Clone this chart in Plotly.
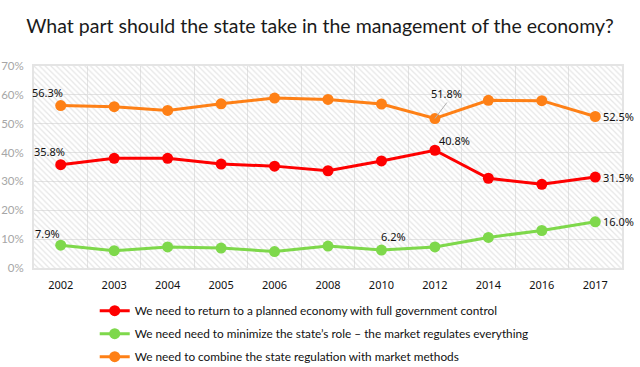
import plotly.graph_objects as go

years = ["2002", "2003", "2004", "2005", "2006", "2008", "2010", "2012", "2014", "2016", "2017"]
planned = [35.8, 38.0, 38.0, 36.0, 35.3, 33.7, 37.1, 40.8, 31.1, 29.0, 31.5]
minimize = [7.9, 6.0, 7.3, 6.9, 5.7, 7.6, 6.2, 7.3, 10.6, 13.0, 16.0]
combine = [56.3, 55.9, 54.6, 56.9, 58.9, 58.4, 56.8, 51.8, 58.1, 58.0, 52.5]

names = [
    "We need to return to a planned economy with full government control",
    "We need need to minimize the state\u2019s role \u2013 the market regulates everything",
    "We need to combine the state regulation with market methods",
]
colors = ["#fe0000", "#7ed84b", "#fe8016"]
Y_MAX = 70
tick_vals = [0, 10, 20, 30, 40, 50, 60, 70]

fig = go.Figure()

# hatched plot background
fig.add_trace(go.Bar(
    x=years, y=[Y_MAX] * len(years), width=1,
    marker=dict(color="rgba(255,255,255,0)", line=dict(width=0),
                pattern=dict(shape="\\", fgcolor="#cccccc", bgcolor="rgba(255,255,255,0)",
                             size=4, solidity=0.3)),
    hoverinfo="skip", showlegend=False,
))

for k, (vals, name, col) in enumerate(zip([planned, minimize, combine], names, colors)):
    fig.add_trace(go.Scatter(
        x=years, y=vals, name=name, mode="lines+markers", legendgroup=f"g{k}",
        line=dict(color=col, width=3), marker=dict(color=col, size=11),
    ))

lab_font = dict(family="Noto Sans, sans-serif", size=11, color="#111111")

def label(series, i, xshift, yshift, **kw):
    # category axis: annotation x given as category index
    fig.add_annotation(x=i, y=series[i], text=f"{series[i]:.1f}%",
                       showarrow=False, xshift=xshift, yshift=yshift, font=lab_font, **kw)

last = len(years) - 1
label(combine, 0, -13, 13)
label(planned, 0, -11, 13)
label(minimize, 0, -13, 12)
label(minimize, 6, 12, 14)
label(planned, 7, 20, 10)
label(combine, last, 6, 0, xanchor="left")
label(planned, last, 6, 0, xanchor="left")
label(minimize, last, 6, 0, xanchor="left")
fig.add_annotation(x=7, y=combine[7], text=f"{combine[7]:.1f}%", showarrow=True,
                   arrowhead=0, arrowcolor="#b0b0b0", arrowwidth=1, ax=12, ay=-16,
                   font=lab_font, xanchor="center", yanchor="bottom", standoff=0)

fig.update_layout(
    width=640, height=367,
    margin=dict(l=34, r=18, t=66, b=99, autoexpand=False),
    paper_bgcolor="white", plot_bgcolor="white",
    title=dict(text="What part should the state take in the management of the economy?",
               x=0.5, xanchor="center", y=0.93, yanchor="middle",
               font=dict(family="Lato, sans-serif", size=19.5, color="#1a1a1a")),
    font=dict(family="Noto Sans, sans-serif"),
    showlegend=True,
    legend=dict(orientation="v", xref="container", yref="container",
                x=0.148, y=0.193, xanchor="left", yanchor="top",
                font=dict(family="Lato, sans-serif", size=11.8, color="#111111"),
                itemwidth=30, tracegroupgap=4, bgcolor="rgba(0,0,0,0)"),
    bargap=0,
)
fig.update_xaxes(type="category", range=[-0.5, len(years) - 0.5], tickson="boundaries",
                 showgrid=True, gridcolor="#e4e4e4", automargin=False,
                 gridwidth=1, ticks="", tickfont=dict(size=11, color="#111111"),
                 ticklabelstandoff=6,
                 showline=True, linecolor="#e4e4e4", linewidth=2, mirror=True)
fig.update_yaxes(range=[0, Y_MAX], tickvals=tick_vals, ticktext=[f"{v}%" for v in tick_vals],
                 showgrid=True, gridcolor="#e4e4e4", gridwidth=1, zeroline=False,
                 tickfont=dict(family="Lato, sans-serif", size=11.5, color="#a6a6a6"),
                 ticks="", automargin=False, ticklabelstandoff=6,
                 showline=True, linecolor="#e4e4e4", linewidth=2, mirror=True)

fig.write_html("out.html", config={"displayModeBar": False},
               post_script="document.body.style.margin='0';")
